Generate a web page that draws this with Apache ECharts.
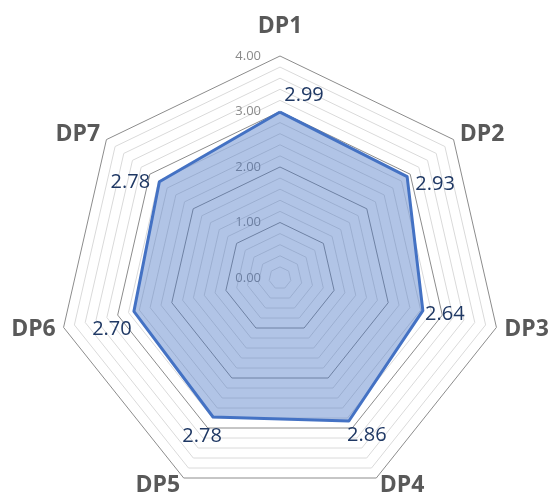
<!DOCTYPE html>
<html>
<head>
<meta charset="utf-8">
<script src="https://cdn.jsdelivr.net/npm/echarts@6/dist/echarts.min.js"></script>
<style>
html, body { margin: 0; padding: 0; background: #fff; }
#Chart { width: 549px; height: 502px; }
</style>
</head>
<body>
<div id="Chart"></div>
<script>
// data
var names = ['DP1', 'DP2', 'DP3', 'DP4', 'DP5', 'DP6', 'DP7'];
var values = [2.99, 2.93, 2.64, 2.86, 2.78, 2.70, 2.78];
var axisMin = 0;
var axisMax = 4;
var minorStep = 0.2;

// styles
var lineColor = '#4472C4';
var fillColor = 'rgba(68,114,196,0.6)';
var majorColor = '#8c8c8c';
var minorColor = '#dadada';
var fontFamily = '"Open Sans", sans-serif';
// label offsets (px) from each vertex
var labelOffsets = [[24, -17], [28, 8], [22, 4], [18, 14], [-11, 19], [-22, 18], [-29, 0]];

// echarts lays indicators out counter-clockwise, the picture goes clockwise
var order = [0];
for (var i = names.length - 1; i > 0; i--) order.push(i);
function reorder(arr) {
    return order.map(function (i) { return arr[i]; });
}

var myChart = echarts.init(document.getElementById('Chart'));

var indicator = reorder(names).map(function (n, i) {
    var ind = { name: n, min: axisMin, max: axisMax };
    if (i === 0) {
        ind.nameGap = 18;
        ind.axisLabel = {
            show: true,
            margin: 19,
            color: '#8a8a8a',
            fontSize: 13,
            fontFamily: fontFamily,
            formatter: function (v) {
                return Math.abs(v - Math.round(v)) < 1e-6 ? Number(v).toFixed(2) : '';
            }
        };
    }
    return ind;
});

var series = [{
    type: 'radar',
    silent: true,
    symbol: 'none',
    lineStyle: { color: lineColor, width: 3 },
    areaStyle: { color: fillColor },
    data: [{ value: reorder(values) }]
}];

// one invisible series per vertex so each value label can sit on its own side
values.forEach(function (v, k) {
    series.push({
        type: 'radar',
        silent: true,
        symbol: 'circle',
        symbolSize: 1,
        itemStyle: { color: 'rgba(0,0,0,0)' },
        lineStyle: { width: 0, opacity: 0 },
        label: {
            show: true,
            position: 'inside',
            offset: labelOffsets[k],
            color: '#1f3864',
            fontSize: 20,
            fontFamily: fontFamily,
            formatter: function (p) {
                var x = Number(p.value);
                return (p.value === '-' || isNaN(x)) ? '' : x.toFixed(2);
            }
        },
        data: [{ value: reorder(values.map(function (w, j) { return j === k ? w : '-'; })) }]
    });
});

var option = {
    animation: false,
    radar: {
        center: [280, 278],
        radius: 222,
        startAngle: 90,
        shape: 'polygon',
        splitNumber: Math.round((axisMax - axisMin) / minorStep),
        nameGap: 8,
        axisName: {
            color: '#595959',
            fontSize: 23,
            fontWeight: 'bold',
            fontFamily: fontFamily
        },
        axisLine: { show: false },
        axisTick: { show: false },
        splitArea: { show: false },
        splitLine: {
            lineStyle: {
                color: [majorColor, minorColor, minorColor, minorColor, minorColor],
                width: 1
            }
        },
        indicator: indicator
    },
    series: series
};
myChart.setOption(option);
window.addEventListener('resize', function () {
    myChart.resize();
});
</script>
</body>
</html>
